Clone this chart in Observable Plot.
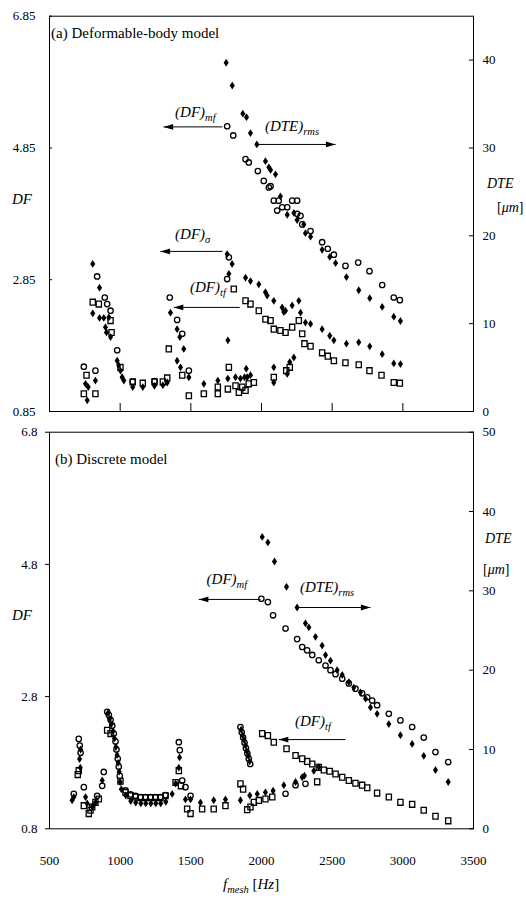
<!DOCTYPE html>
<html><head><meta charset="utf-8">
<script src="https://cdn.jsdelivr.net/npm/d3@7"></script>
<script src="https://cdn.jsdelivr.net/npm/@observablehq/plot@0.6"></script>
<style>
body{margin:0;background:#fff;}
#chart{position:relative;width:526px;height:900px;background:#fff;}
.panel{position:absolute;left:0;width:526px;}
#chart svg, #chart svg text, #chart svg tspan{font-family:"Liberation Serif","Times New Roman","DejaVu Serif",serif !important;}
</style></head><body><div id="chart"></div>
<script>
// ---------------- data ----------------
const X_TICKS = [500,1000,1500,2000,2500,3000,3500];
const X_LABELS = ["500","1000","1500","2000","2500","3000","3500"];
const TOP_DF_TICKS = [0.85,2.85,4.85,6.85];
const TOP_DF_LABELS = ["0.85","2.85","4.85","6.85"];
const TOP_DTE_TICKS = [0,10,20,30,40];
const TOP_DTE_LABELS = ["0","10","20","30","40"];
const BOT_DF_TICKS = [0.8,2.8,4.8,6.8];
const BOT_DF_LABELS = ["0.8","2.8","4.8","6.8"];
const BOT_DTE_TICKS = [0,10,20,30,40,50];
const BOT_DTE_LABELS = ["0","10","20","30","40","50"];

// (a) Deformable-body model  [f_mesh Hz, DF]
const topDFmf = [[743,1.53],[825,1.47],[837,2.90],[891,2.58],[908,2.48],[932,2.38],[979,1.78],[1089,1.30],[1243,1.31],[1351,2.58],[1403,2.24],[1439,2.03],[1486,1.47],[1757,2.86],[1769,3.19],
 [1757,5.18],[1800,5.04],[1887,4.68],[1910,4.63],[1974,4.50],[2016,4.35],[2052,4.25],[2064,4.27],[2087,4.05],[2111,3.90],[2122,4.05],[2146,3.95],[2182,3.95],[2217,4.05],[2252,4.05],[2252,3.85],[2276,3.82],[2288,3.69],[2347,3.59],[2429,3.42],[2469,3.32],[2512,3.23],[2594,3.06],[2684,3.11],[2764,2.98],[2854,2.77],[2936,2.58],[2979,2.54]];
const topDFsigma = [[755,1.27],[774,1.22],[767,1.02],[825,1.32],[806,3.09],[854,2.73],[806,2.34],[854,2.27],[884,2.27],[920,2.28],[896,2.13],[903,2.05],[932,1.98],[979,1.62],[990,1.55],[1002,1.47],[1014,1.37],[1026,1.32],[1089,1.22],[1160,1.22],[1243,1.24],[1302,1.25],[1333,1.29],[1356,2.35],[1403,2.10],[1422,1.98],[1450,1.80],[1403,1.62],[1427,1.52],[1486,1.37],[1592,1.27],[1691,1.32],[1762,1.35],[1762,1.93],[1816,1.37],[1851,1.35],[1880,1.37],[1899,1.37],[1922,1.40],[1892,1.50],[2087,1.52],[2087,1.29],[2182,1.42],[2200,1.60],[2229,1.67],
 [1757,3.24],[1792,3.09],[1769,2.94],[1887,2.88],[1922,2.83],[1981,2.78],[2028,2.66],[2040,2.61],[2087,2.53],[2146,2.43],[2158,2.36],[2170,2.38],[2217,2.46],[2264,2.53],[2276,2.35],[2311,2.20],[2347,2.18],[2429,2.10],[2483,2.00],[2512,1.93],[2601,1.88],[2688,1.90],[2766,1.84],[2854,1.72],[2936,1.58],[2983,1.57]];
const topDFtf = [[743,1.12],[762,1.40],[825,1.12],[806,2.51],[849,2.48],[932,2.23],[939,2.05],[1002,1.52],[1089,1.30],[1160,1.28],[1243,1.30],[1302,1.30],[1333,1.36],[1344,1.80],[1439,1.40],[1486,1.09],[1592,1.12],[1691,1.22],[1691,1.12],[1762,1.19],[1769,1.52],[1816,1.24],[1840,1.14],[1864,1.22],[1887,1.17],[1910,1.27],[1946,1.29],[2087,1.37],[2175,1.47],[2200,1.52],
 [1804,2.71],[1887,2.53],[1922,2.48],[1981,2.38],[2028,2.25],[2064,2.23],[2087,2.10],[2134,2.08],[2170,2.05],[2217,2.13],[2264,2.23],[2288,2.03],[2304,1.88],[2347,1.84],[2429,1.74],[2469,1.69],[2512,1.62],[2594,1.59],[2688,1.56],[2764,1.47],[2849,1.40],[2936,1.29],[2979,1.28]];
// [f_mesh Hz, DTE µm]
const topDTErms = [[1750,39.7],[1793,37.1],[1868,33.9],[1894,33.5],[1922,31.7],[1967,30.4],[2028,28.5],[2052,27.8],[2064,27.5],[2099,27.0],[2134,24.5],[2182,22.4],[2229,22.6],[2252,21.8],[2299,21.3],[2311,20.3],[2347,19.9],[2429,18.4],[2483,17.6],[2524,16.9],[2601,15.3],[2688,13.8],[2766,12.9],[2854,11.9],[2936,10.8],[2983,10.3]];

// (b) Discrete model  [f_mesh Hz, DF]
const botDFmf = [[672,1.33],[707,2.16],[714,2.06],[720,1.95],[743,1.43],[837,1.30],[873,1.45],[884,1.66],[908,2.57],[920,2.52],[932,2.45],[944,2.36],[955,2.24],[967,2.12],[974,2.00],[983,1.86],[990,1.74],[997,1.60],[1038,1.38],[1073,1.32],[1108,1.30],[1144,1.28],[1179,1.28],[1215,1.28],[1250,1.28],[1285,1.28],[1321,1.31],[1415,2.11],[1422,1.99],[1439,1.53],[1462,1.43],[1498,1.30],[1851,2.34],[1860,2.26],[1870,2.18],[1880,2.10],[1890,2.02],[1900,1.94],[1910,1.86],[1920,1.78],[2170,1.33],[2241,1.46],[2311,1.48],
 [1999,4.28],[2045,4.23],[2082,4.03],[2170,3.83],[2252,3.67],[2288,3.55],[2323,3.50],[2359,3.43],[2405,3.35],[2453,3.27],[2488,3.20],[2524,3.14],[2571,3.07],[2618,3.00],[2665,2.92],[2712,2.85],[2748,2.79],[2783,2.74],[2818,2.67],[2901,2.54],[2983,2.44],[3066,2.34],[3148,2.18],[3231,1.96],[3321,1.81]];
const botDFtf = [[700,1.62],[707,1.68],[743,1.15],[778,1.03],[790,1.08],[802,1.13],[825,1.20],[849,1.25],[908,2.29],[932,2.24],[1002,1.52],[1038,1.35],[1073,1.30],[1108,1.28],[1144,1.27],[1179,1.27],[1215,1.27],[1250,1.27],[1285,1.27],[1321,1.30],[1392,1.50],[1415,1.68],[1430,1.45],[1474,1.10],[1498,1.03],[1580,1.10],[1662,1.10],[1745,1.15],[1851,1.48],[1870,1.40],[1899,1.09],[1922,1.13],[1946,1.20],[1981,1.23],[2028,1.25],[2076,1.28],[2394,1.51],
 [2005,2.24],[2045,2.21],[2087,2.11],[2177,2.01],[2241,1.91],[2288,1.86],[2323,1.82],[2359,1.78],[2405,1.73],[2441,1.69],[2482,1.67],[2524,1.63],[2571,1.58],[2618,1.53],[2665,1.49],[2712,1.46],[2748,1.42],[2818,1.34],[2901,1.28],[2983,1.20],[3066,1.17],[3148,1.08],[3231,0.99],[3321,0.92]];
// [f_mesh Hz, DTE µm]
const botDTErms = [[660,3.6],[672,4.0],[713,8.8],[718,7.7],[720,10.0],[755,4.0],[767,3.2],[802,2.8],[825,3.3],[873,6.1],[914,14.6],[926,13.9],[938,13.2],[950,12.3],[960,11.4],[970,10.3],[978,9.3],[986,8.3],[993,7.2],[1000,5.9],[1008,5.0],[1040,4.2],[1075,3.5],[1110,3.3],[1146,3.2],[1181,3.2],[1217,3.2],[1252,3.2],[1287,3.2],[1323,3.4],[1368,4.4],[1392,5.7],[1415,7.7],[1420,9.0],[1462,3.7],[1498,3.7],[1568,3.3],[1662,3.6],[1745,3.7],[1851,3.6],[1856,12.5],[1866,11.8],[1876,11.2],[1886,10.5],[1896,9.8],[1906,9.2],[1916,8.5],[1917,4.2],[1970,4.4],[2028,4.6],[2082,4.8],[2158,5.5],[2241,5.9],[2288,6.5],[2304,6.7],[2370,7.3],[2405,7.8],
 [2005,36.8],[2045,36.1],[2092,33.7],[2177,30.5],[2252,27.9],[2311,25.9],[2335,25.4],[2382,24.2],[2429,23.1],[2453,21.9],[2488,21.2],[2535,20.0],[2571,19.4],[2618,18.5],[2653,17.8],[2700,17.2],[2736,16.4],[2771,15.3],[2818,14.5],[2901,13.2],[2983,11.8],[3066,10.7],[3148,9.2],[3231,7.4],[3321,5.9]];

// annotation arrows (from the series point towards its axis) and labels
const topArrowsDF = [{from:1724,to:1307,y:5.17},{from:1724,to:1285,y:3.28},{from:1846,to:1379,y:2.43}];
const topArrowsDTE = [{from:1967,to:2524,y:30.4}];
const botArrowsDF = [{from:1993,to:1556,y:4.27},{from:2594,to:2122,y:2.15}];
const botArrowsDTE = [{from:2241,to:2771,y:27.9}];
const topLabelsDF = [{x:1392,y:5.32,main:"(DF)",sub:"mf"},{x:1392,y:3.46,main:"(DF)",sub:"σ"},{x:1498,y:2.65,main:"(DF)",sub:"tf"}];
const topLabelsDTE = [{x:2028,y:31.9,main:"(DTE)",sub:"rms"}];
const botLabelsDF = [{x:1615,y:4.50,main:"(DF)",sub:"mf"},{x:2241,y:2.35,main:"(DF)",sub:"tf"}];
const botLabelsDTE = [{x:2276,y:29.8,main:"(DTE)",sub:"rms"}];

// ---------------- layout ----------------
const W = 526, ML = 49, MR = 53;
const X_DOMAIN = [500, 3500];
const FONT = "Liberation Serif, Times New Roman, DejaVu Serif, serif";
const layerStyle = `position:absolute;left:0;top:0;background:transparent;overflow:visible;font-size:13px;color:black;`;

const tallDiamond = {draw(c, s){const r=Math.sqrt(s/Math.PI); c.moveTo(0,-1.3*r); c.lineTo(0.85*r,0); c.lineTo(0,1.3*r); c.lineTo(-0.85*r,0); c.closePath();}};
const tallRect = {draw(c, s){const r=Math.sqrt(s/Math.PI); c.moveTo(-0.9*r,-r); c.lineTo(0.9*r,-r); c.lineTo(0.9*r,r); c.lineTo(-0.9*r,r); c.closePath();}};
const arrowLeft = {draw(c, s){const r=Math.sqrt(s/Math.PI); c.moveTo(0,0); c.lineTo(3*r,-0.9*r); c.lineTo(3*r,0.9*r); c.closePath();}};
const arrowRight = {draw(c, s){const r=Math.sqrt(s/Math.PI); c.moveTo(0,0); c.lineTo(-3*r,-0.9*r); c.lineTo(-3*r,0.9*r); c.closePath();}};

const fx = d => d[0], fy = d => d[1];
const lab = (ticks, labels) => d => labels[ticks.indexOf(d)];

function addText(svg, x, y, parts, size) {
  const t = d3.select(svg).append("text").attr("x", x).attr("y", y)
    .attr("text-anchor", "start").attr("font-family", FONT).attr("font-size", size).attr("fill", "black");
  let dyPrev = 0;
  for (const p of parts) {
    const ts = t.append("tspan").text(p.t);
    const dy = p.sub ? 4 : 0;
    if (dy !== dyPrev) ts.attr("dy", dy - dyPrev);
    dyPrev = dy;
    if (p.sub) ts.attr("font-size", size*0.7);
    if (p.italic) ts.attr("font-style", "italic");
  }
  return t;
}

function buildPanel(cfg) {
  const div = document.createElement("div");
  div.className = "panel";
  div.style.top = cfg.top + "px";
  div.style.height = cfg.h + "px";
  const common = {width: W, height: cfg.h, marginTop: cfg.mt, marginBottom: cfg.mb, marginLeft: ML, marginRight: MR, style: layerStyle};
  const xAxis = cfg.showXLabels
    ? Plot.axisX(X_TICKS, {anchor: "bottom", tickSize: 0, tickPadding: 27, tickFormat: lab(X_TICKS, X_LABELS), label: null, fontSize: 13})
    : Plot.axisX(X_TICKS.slice(1, -1), {anchor: "bottom", tickSize: -8, tickFormat: () => "", label: null});
  const left = Plot.plot({...common,
    x: {domain: X_DOMAIN},
    y: {domain: cfg.dfDomain},
    marks: [
      Plot.frame({stroke: "black", strokeWidth: 1}),
      Plot.axisY(cfg.dfTicks, {anchor: "left", tickSize: cfg.leftTick, tickPadding: cfg.leftPad, tickFormat: lab(cfg.dfTicks, cfg.dfLabels), label: null, fontSize: 13}),
      xAxis,
      ...cfg.dfSeries.map(s => Plot.dot(s.data, {x: fx, y: fy, symbol: s.symbol, r: s.r, fill: s.fill, stroke: s.stroke, strokeWidth: s.sw})),
      Plot.link(cfg.arrowsDF, {x1: "from", x2: "to", y1: "y", y2: "y", stroke: "black", strokeWidth: 1}),
      Plot.dot(cfg.arrowsDF, {x: "to", y: "y", symbol: arrowLeft, r: 3.2, fill: "black", stroke: "none"})
    ]
  });
  const right = Plot.plot({...common,
    x: {domain: X_DOMAIN, axis: null},
    y: {domain: cfg.dteDomain},
    marks: [
      Plot.axisY(cfg.dteTicks, {anchor: "right", tickSize: -5, tickPadding: 14, tickFormat: lab(cfg.dteTicks, cfg.dteLabels), label: null, fontSize: 13}),
      Plot.dot(cfg.dte, {x: fx, y: fy, symbol: tallDiamond, r: 3.0, fill: "black", stroke: "none"}),
      Plot.link(cfg.arrowsDTE, {x1: "from", x2: "to", y1: "y", y2: "y", stroke: "black", strokeWidth: 1}),
      Plot.dot(cfg.arrowsDTE, {x: "to", y: "y", symbol: arrowRight, r: 3.2, fill: "black", stroke: "none"})
    ]
  });
  div.appendChild(left);
  div.appendChild(right);
  document.getElementById("chart").appendChild(div);

  const sx = left.scale("x"), syL = left.scale("y"), syR = right.scale("y");
  for (const l of cfg.labelsDF)
    addText(right, sx.apply(l.x), syL.apply(l.y), [{t: l.main, italic: true}, {t: l.sub, sub: true, italic: true}], 15);
  for (const l of cfg.labelsDTE)
    addText(right, sx.apply(l.x), syR.apply(l.y), [{t: l.main, italic: true}, {t: l.sub, sub: true, italic: true}], 15);
  addText(right, cfg.title.x, cfg.title.y, [{t: cfg.title.text}], 15);
  addText(right, 12, cfg.dfTitleY, [{t: "DF", italic: true}], 15);
  addText(right, cfg.dteTitle.x, cfg.dteTitle.y, [{t: "DTE", italic: true}], 14);
  addText(right, cfg.umTitle.x, cfg.umTitle.y, [{t: "["}, {t: "μm", italic: true}, {t: "]"}], 14);
  return {left, right};
}

const openCircle = {symbol: "circle", r: 2.7, fill: "none", stroke: "black", sw: 1.3};
const openSquare = {symbol: tallRect, r: 2.9, fill: "none", stroke: "black", sw: 1.3};
const fillDiamond = {symbol: tallDiamond, r: 3.0, fill: "black", stroke: "none", sw: 0};

buildPanel({
  top: 0, h: 425, mt: 15.7, mb: 14,
  dfDomain: [0.85, 6.85], dfTicks: TOP_DF_TICKS, dfLabels: TOP_DF_LABELS, leftTick: -3, leftPad: 17,
  dteDomain: [0, 45], dteTicks: TOP_DTE_TICKS, dteLabels: TOP_DTE_LABELS,
  showXLabels: false,
  dfSeries: [{data: topDFsigma, ...fillDiamond}, {data: topDFtf, ...openSquare}, {data: topDFmf, ...openCircle}],
  dte: topDTErms, arrowsDF: topArrowsDF, arrowsDTE: topArrowsDTE,
  labelsDF: topLabelsDF, labelsDTE: topLabelsDTE,
  title: {x: 51, y: 38, text: "(a) Deformable-body model"},
  dfTitleY: 204, dteTitle: {x: 487, y: 188}, umTitle: {x: 497, y: 212}
});

const bot = buildPanel({
  top: 425, h: 475, mt: 6.7, mb: 71.7,
  dfDomain: [0.8, 6.8], dfTicks: BOT_DF_TICKS, dfLabels: BOT_DF_LABELS, leftTick: 4, leftPad: 8,
  dteDomain: [0, 50], dteTicks: BOT_DTE_TICKS, dteLabels: BOT_DTE_LABELS,
  showXLabels: true,
  dfSeries: [{data: botDFtf, ...openSquare}, {data: botDFmf, ...openCircle}],
  dte: botDTErms, arrowsDF: botArrowsDF, arrowsDTE: botArrowsDTE,
  labelsDF: botLabelsDF, labelsDTE: botLabelsDTE,
  title: {x: 55, y: 39, text: "(b) Discrete model"},
  dfTitleY: 195, dteTitle: {x: 485, y: 118}, umTitle: {x: 483, y: 149}
});
addText(bot.right, 223, 464, [{t: "f", italic: true}, {t: "mesh", sub: true, italic: true}, {t: " ["}, {t: "Hz", italic: true}, {t: "]"}], 15);
</script></body></html>
